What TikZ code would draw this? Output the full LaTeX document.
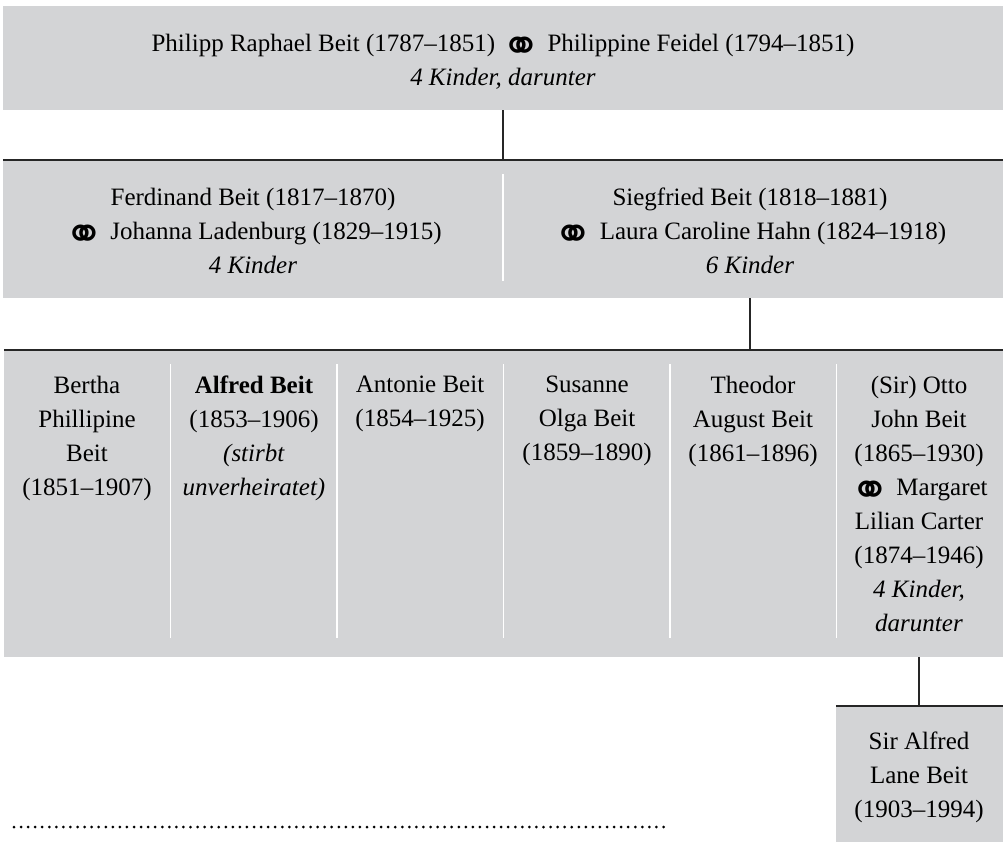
\documentclass[tikz,border=0pt]{standalone}
\usepackage{fontspec}
\setmainfont{Liberation Serif}
\newfontfamily\symfont{DejaVu Sans}
\newcommand{\marr}{\raisebox{-10.6pt}{\scalebox{1.9}{\symfont\char"26AD}}}
\definecolor{famgray}{RGB}{211,212,214}
\begin{document}
\begin{tikzpicture}[x=1pt, y=-1pt,
		famrow/.style={rectangle, fill=famgray, inner sep=0pt},
		famtext/.style={align=center, inner sep=0pt, anchor=north, font=\fontsize{25}{34}\selectfont},
		famline/.style={black!85, line width=1.6pt},
		sepline/.style={white, line width=1.5pt},
		dotline/.style={black, line width=3pt, line cap=round, dash pattern=on 0pt off 7.06pt}]
		\useasboundingbox (0,0) rectangle (1003,842);
		% grey rows
		\node[famrow, minimum width=1000pt, minimum height=104pt] (row1) at (503,58) {};
		\node[famrow, minimum width=1000pt, minimum height=138pt] (row2) at (503,229) {};
		\node[famrow, minimum width=999pt, minimum height=307pt] (row3) at (503.5,503.5) {};
		\node[famrow, minimum width=167pt, minimum height=136pt] (row4) at (919.5,774) {};
		% separators
		\draw[sepline] (503,174) -- (503,281);
		\foreach \x in {170.5,337,503.5,670,836.5}
			\draw[sepline] (\x,364) -- (\x,638);
		% persons
		\node[famtext] (philipp) at (503,34) {Philipp Raphael Beit (1787–1851) \marr{} Philippine Feidel (1794–1851)\\ \textit{4 Kinder, darunter}};
		\node[famtext] (ferd) at (253,188) {Ferdinand Beit (1817–1870)\\ \marr{} Johanna Ladenburg (1829–1915)\\ \textit{4 Kinder}};
		\node[famtext] (sieg) at (750,188) {Siegfried Beit (1818–1881)\\ \marr{} Laura Caroline Hahn (1824–1918)\\ \textit{6 Kinder}};
		\node[famtext] (bertha) at (87,376) {Bertha\\ Phillipine\\ Beit\\ (1851–1907)};
		\node[famtext] (alfred) at (254,376) {\textbf{Alfred Beit}\\ (1853–1906)\\ \textit{(stirbt}\\ \textit{unverheiratet)}};
		\node[famtext] (antonie) at (420,376) {Antonie Beit\\ (1854–1925)};
		\node[famtext] (susanne) at (587,376) {Susanne\\ Olga Beit\\ (1859–1890)};
		\node[famtext] (theodor) at (753,376) {Theodor\\ August Beit\\ (1861–1896)};
		\node[famtext] (otto) at (919,376) {(Sir) Otto\\ John Beit\\ (1865–1930)\\ \marr{} Margaret\\ Lilian Carter\\ (1874–1946)\\ \textit{4 Kinder,}\\ \textit{darunter}};
		\node[famtext] (alfredjr) at (919,732) {Sir Alfred\\ Lane Beit\\ (1903–1994)};
		% connectors
		\draw[famline] (row1.south) -- (row1.south |- row2.north);
		\draw[famline, line width=2pt] (row2.north west) -- (row2.north east);
		\draw[famline] (sieg.south |- row2.south) -- (sieg.south |- row3.north);
		\draw[famline, line width=2pt] (row3.north west) -- (row3.north east);
		\draw[famline] (otto.south |- row3.south) -- (otto.south |- row4.north);
		\draw[famline, line width=2pt] (row4.north west) -- (row4.north east);
		\draw[dotline] (14,827) -- (666,827);
\end{tikzpicture}
\end{document}
